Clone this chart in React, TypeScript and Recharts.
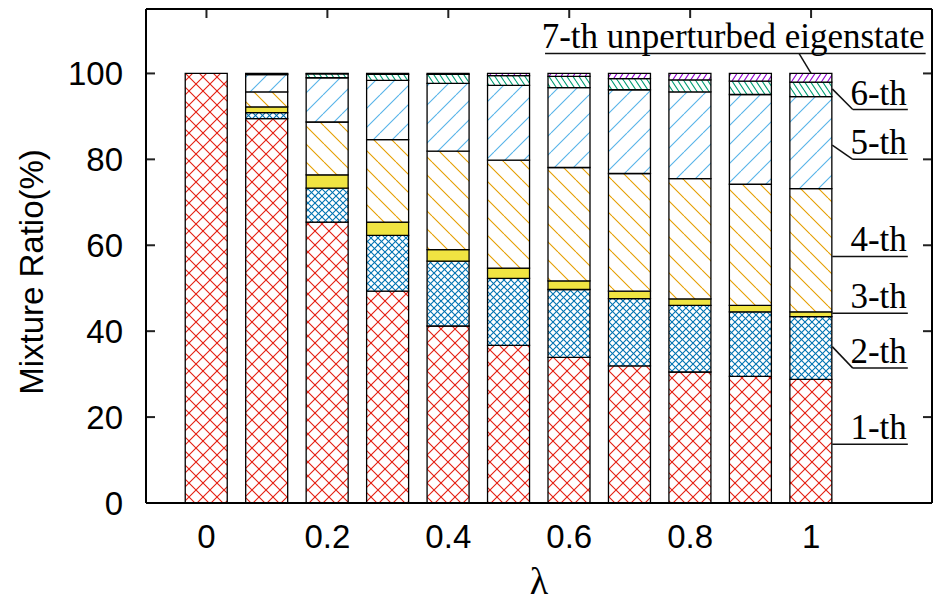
import { Bar, BarChart, ReferenceLine, XAxis, YAxis } from "recharts";

// λ values of the bars and the share (%) of each unperturbed eigenstate
const LAMBDA = [0, 0.1, 0.2, 0.3, 0.4, 0.5, 0.6, 0.7, 0.8, 0.9, 1];
const STATE_1 = [100, 89.5, 65.4, 49.3, 41.2, 36.7, 33.9, 31.9, 30.5, 29.5, 28.8];
const STATE_2 = [0, 1.4, 7.9, 13.0, 15.1, 15.6, 15.8, 15.7, 15.5, 15.0, 14.6];
const STATE_3 = [0, 1.3, 3.1, 3.1, 2.7, 2.4, 2.0, 1.7, 1.5, 1.5, 1.1];
const STATE_4 = [0, 3.5, 12.3, 19.2, 22.9, 25.1, 26.4, 27.4, 28.0, 28.2, 28.7];
const STATE_5 = [0, 4.0, 10.3, 13.8, 15.8, 17.4, 18.6, 19.5, 20.2, 20.9, 21.4];
const STATE_6 = [0, 0.2, 0.9, 1.4, 2.1, 2.3, 2.6, 2.6, 2.8, 3.1, 3.4];
const STATE_7 = [0, 0.1, 0.1, 0.2, 0.2, 0.5, 0.7, 1.2, 1.5, 1.8, 2.0];

const X_TICKS = [0, 0.2, 0.4, 0.6, 0.8, 1];
const Y_TICKS = [0, 20, 40, 60, 80, 100];
const X_DOMAIN = [-0.1, 1.2];
const Y_DOMAIN = [0, 115];

const SERIES = [
  { key: "s1", name: "1-th", values: STATE_1, fill: "url(#pat1)" },
  { key: "s2", name: "2-th", values: STATE_2, fill: "url(#pat2)" },
  { key: "s3", name: "3-th", values: STATE_3, fill: "#f0e442" },
  { key: "s4", name: "4-th", values: STATE_4, fill: "url(#pat4)" },
  { key: "s5", name: "5-th", values: STATE_5, fill: "url(#pat5)" },
  { key: "s6", name: "6-th", values: STATE_6, fill: "url(#pat6)" },
  { key: "s7", name: "7-th", values: STATE_7, fill: "url(#pat7)" },
];

const rows = LAMBDA.map((x, i) => {
  const row: Record<string, number> = { x };
  SERIES.forEach((s) => (row[s.key] = s.values[i]));
  return row;
});

// annotation layout in data units: leader line (optional) + underline with text
const NOTES = [
  { text: "7-th unperturbed eigenstate", leader: [1.0, 100, 0.98, 104.65], line: [0.56, 1.1895, 104.65] },
  { text: "6-th", leader: [1.035, 96.4, 1.069, 91.6], line: [1.069, 1.16, 91.6] },
  { text: "5-th", leader: [1.035, 83.3, 1.069, 80.0], line: [1.069, 1.16, 80.0] },
  { text: "4-th", leader: null, line: [1.035, 1.16, 57.4] },
  { text: "3-th", leader: null, line: [1.035, 1.16, 44.2] },
  { text: "2-th", leader: [1.035, 36.4, 1.069, 31.4], line: [1.069, 1.16, 31.4] },
  { text: "1-th", leader: null, line: [1.035, 1.16, 13.7] },
];

// plot frame in pixels
const W = 933;
const H = 605;
const PLOT = { left: 146, right: 932, top: 9, bottom: 503 };
const TICK_LEN = 9;
// tick length converted to data units (inward gnuplot-style ticks), kept a hair inside the domain
const EPS = 1e-6;
const TICK_DX = (TICK_LEN * (X_DOMAIN[1] - X_DOMAIN[0])) / (PLOT.right - PLOT.left);
const TICK_DY = (TICK_LEN * (Y_DOMAIN[1] - Y_DOMAIN[0])) / (PLOT.bottom - PLOT.top);

const SANS = "'Liberation Sans', Arial, sans-serif";
const SERIF = "'Liberation Serif', 'Times New Roman', serif";
const TICK_COLOR = "#222";

function diag(w: number, h: number, dir: "\\" | "/") {
  if (dir === "\\") return `M0,0 L${w},${h} M${-w},0 L0,${h} M${w},0 L${2 * w},${h}`;
  return `M0,${h} L${w},0 M${-w},${h} L0,0 M${w},${h} L${2 * w},0`;
}

function Hatch({ id, w, h, color, dirs, sw = 1.1 }: { id: string; w: number; h: number; color: string; dirs: ("\\" | "/")[]; sw?: number }) {
  return (
    <pattern id={id} patternUnits="userSpaceOnUse" width={w} height={h}>
      <rect width={w} height={h} fill="#fff" />
      {dirs.map((d) => (
        <path key={d} d={diag(w, h, d)} stroke={color} strokeWidth={sw} fill="none" />
      ))}
    </pattern>
  );
}

const XTick = (props: any) => (
  <text x={props.x} y={props.y} dy="0.71em" textAnchor="middle" fontFamily={SANS} fontSize={33} fill="#000">
    {String(props.payload.value)}
  </text>
);

const YTick = (props: any) => (
  <text x={props.x} y={props.y} dy="0.355em" textAnchor="end" fontFamily={SANS} fontSize={33} fill="#000">
    {String(props.payload.value)}
  </text>
);

const noteLabel = (text: string) => (props: any) => {
  const vb = props.viewBox || {};
  return (
    <text x={vb.x + vb.width - 1} y={vb.y - 5} textAnchor="end" fontFamily={SERIF} fontSize={35} fill="#000">
      {text}
    </text>
  );
};

const yLabel = (props: any) => {
  const vb = props.viewBox || {};
  const x = vb.x + 43;
  const y = vb.y + vb.height / 2 + 16;
  return (
    <text x={x} y={y} transform={`rotate(-90, ${x}, ${y})`} textAnchor="middle" fontFamily={SANS} fontSize={33} fill="#000">
      Mixture Ratio(%)
    </text>
  );
};

const xLabel = (props: any) => {
  const vb = props.viewBox || {};
  return (
    <text x={vb.x + vb.width / 2} y={vb.y + 91} textAnchor="middle" fontFamily={SERIF} fontSize={38} fill="#000">
      λ
    </text>
  );
};

export default function App() {
  const frame = { stroke: "#000", strokeWidth: 2 };
  const x0 = X_DOMAIN[0] + EPS;
  const x1 = X_DOMAIN[1] - EPS;
  const yTop = Y_DOMAIN[1] - EPS;
  const tickMarks = [
    ...Y_TICKS.slice(1).flatMap((t) => [
      [x0, t, x0 + TICK_DX, t],
      [x1, t, x1 - TICK_DX, t],
    ]),
    ...X_TICKS.map((t) => [t, yTop, t, yTop - TICK_DY]),
  ];
  return (
    <div style={{ position: "absolute", left: 0, top: 0, background: "#fff" }}>
      <BarChart
        width={W}
        height={H}
        data={rows}
        margin={{ top: PLOT.top, right: W - PLOT.right, bottom: 0, left: 0 }}
      >
        <defs>
          <Hatch id="pat1" w={14} h={14} color="#e51e10" dirs={["\\", "/"]} />
          <Hatch id="pat2" w={7} h={7} color="#0072b2" dirs={["\\", "/"]} />
          <Hatch id="pat4" w={18} h={18} color="#e69f00" dirs={["\\"]} />
          <Hatch id="pat5" w={19} h={19} color="#56b4e9" dirs={["/"]} />
          <Hatch id="pat6" w={6} h={9} color="#009e73" dirs={["\\"]} />
          <Hatch id="pat7" w={6} h={9} color="#9400d3" dirs={["/"]} />
        </defs>
        <XAxis
          dataKey="x"
          type="number"
          domain={X_DOMAIN}
          ticks={X_TICKS}
          interval={0}
          height={H - PLOT.bottom}
          axisLine={frame}
          tickLine={false}
          tickSize={6}
          tickMargin={16}
          tick={XTick}
          label={xLabel}
        />
        <YAxis
          type="number"
          domain={Y_DOMAIN}
          ticks={Y_TICKS}
          interval={0}
          width={PLOT.left}
          axisLine={frame}
          tickLine={false}
          tickSize={6}
          tickMargin={17}
          tick={YTick}
          label={yLabel}
        />
        {/* top and right border */}
        <XAxis xAxisId="tp" orientation="top" mirror type="number" domain={X_DOMAIN} ticks={X_TICKS}
          axisLine={frame} tickLine={false} tick={false} />
        <YAxis yAxisId="rt" orientation="right" mirror type="number" domain={Y_DOMAIN} ticks={Y_TICKS}
          axisLine={frame} tickLine={false} tick={false} />
        {SERIES.map((s) => (
          <Bar
            key={s.key}
            dataKey={s.key}
            name={s.name}
            stackId="mix"
            fill={s.fill}
            stroke="#000"
            strokeWidth={1.3}
            barSize={42}
            isAnimationActive={false}
          />
        ))}
        {tickMarks.map((m, i) => (
          <ReferenceLine
            key={"tick-" + i}
            ifOverflow="visible"
            segment={[
              { x: m[0], y: m[1] },
              { x: m[2], y: m[3] },
            ]}
            stroke={TICK_COLOR}
            strokeWidth={2}
          />
        ))}
        {NOTES.map((n) =>
          n.leader ? (
            <ReferenceLine
              key={n.text + "-leader"}
              segment={[
                { x: n.leader[0], y: n.leader[1] },
                { x: n.leader[2], y: n.leader[3] },
              ]}
              stroke="#111"
              strokeWidth={1.5}
            />
          ) : null
        )}
        {NOTES.map((n) => (
          <ReferenceLine
            key={n.text + "-line"}
            segment={[
              { x: n.line[0], y: n.line[2] },
              { x: n.line[1], y: n.line[2] },
            ]}
            stroke="#111"
            strokeWidth={1.5}
            label={noteLabel(n.text)}
          />
        ))}
      </BarChart>
    </div>
  );
}
